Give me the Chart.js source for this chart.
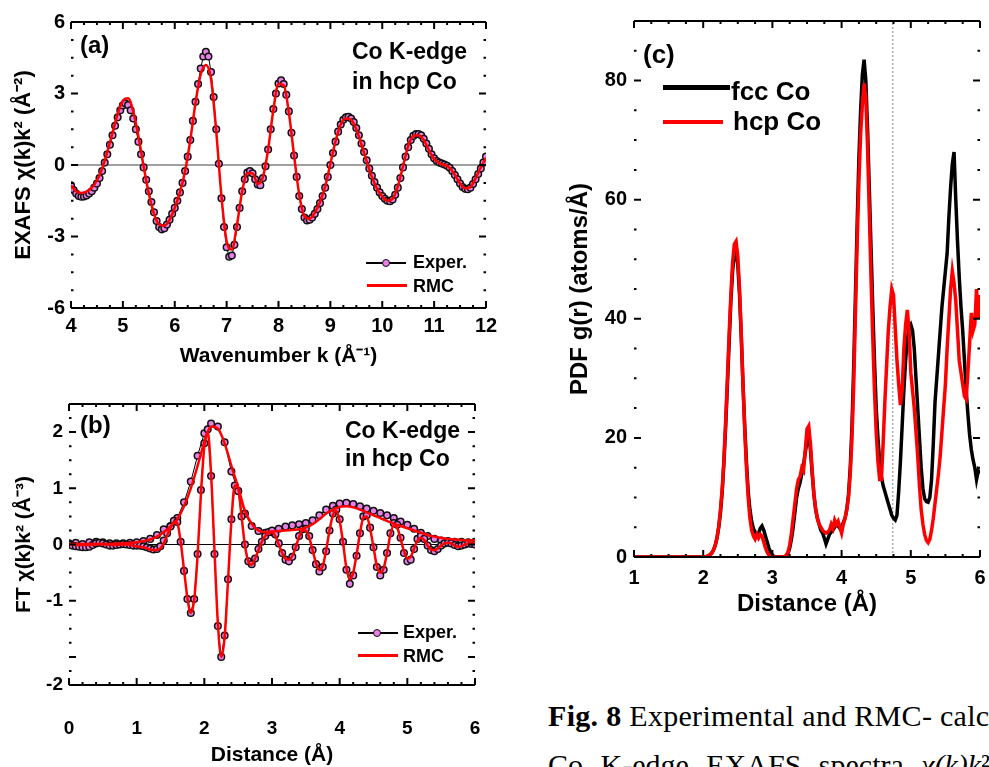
<!DOCTYPE html>
<html>
<head>
<meta charset="utf-8">
<script src="https://cdn.jsdelivr.net/npm/chart.js@4.4.1/dist/chart.umd.min.js"></script>
<style>
  body { margin: 0; background: #fff; }
  #page { position: relative; width: 989px; height: 767px; overflow: hidden; background: #fff;
          font-family: "Liberation Sans", Arial, sans-serif; font-weight: bold; color: #000; }
  canvas { position: absolute; }
  .txt { position: absolute; white-space: nowrap; line-height: 1; }
  .bar { position: absolute; }
  .dot { position: absolute; box-sizing: border-box; width: 8px; height: 8px; border-radius: 50%;
         background: #e680e6; border: 1.5px solid #111; }
  .cap { position: absolute; left: 548px; white-space: nowrap; line-height: 1; font-weight: normal;
         font-family: "Liberation Serif", "Times New Roman", serif; font-size: 30px; }
</style>
</head>
<body>
<div id="page">
  <canvas id="chartA" width="500" height="385" style="left:0;top:0"></canvas>
  <canvas id="chartB" width="500" height="380" style="left:0;top:390px"></canvas>
  <canvas id="chartC" width="459" height="640" style="left:530px;top:0"></canvas>

  <div class="txt" style="left:80px;top:33px;font-size:24px">(a)</div>
  <div class="txt" style="left:352px;top:40px;font-size:23px">Co K-edge</div>
  <div class="txt" style="left:352px;top:70px;font-size:23px">in hcp Co</div>
  <div class="bar" style="left:366px;top:262px;width:40px;height:2px;background:#000"></div>
  <div class="dot" style="left:382px;top:259px"></div>
  <div class="txt" style="left:413px;top:253px;font-size:18px">Exper.</div>
  <div class="bar" style="left:367px;top:283.5px;width:40px;height:3px;background:#ff0000"></div>
  <div class="txt" style="left:413px;top:276.5px;font-size:18px">RMC</div>

  <div class="txt" style="left:80px;top:413px;font-size:24px">(b)</div>
  <div class="txt" style="left:345px;top:419px;font-size:23px">Co K-edge</div>
  <div class="txt" style="left:345px;top:447px;font-size:23px">in hcp Co</div>
  <div class="bar" style="left:358px;top:632px;width:40px;height:2px;background:#000"></div>
  <div class="dot" style="left:373px;top:629px"></div>
  <div class="txt" style="left:403px;top:623px;font-size:18px">Exper.</div>
  <div class="bar" style="left:358px;top:653.5px;width:40px;height:3px;background:#ff0000"></div>
  <div class="txt" style="left:403px;top:646.5px;font-size:18px">RMC</div>

  <div class="txt" style="left:643px;top:41px;font-size:26px">(c)</div>
  <div class="bar" style="left:663px;top:85px;width:67px;height:5px;background:#000"></div>
  <div class="txt" style="left:731px;top:78px;font-size:26px">fcc Co</div>
  <div class="bar" style="left:663px;top:120px;width:60px;height:4px;background:#ff0000"></div>
  <div class="txt" style="left:733px;top:108px;font-size:26px">hcp Co</div>

  <div class="cap" style="top:701px;letter-spacing:0.3px"><b>Fig. 8</b> Experimental and RMC- calculated</div>
  <div class="cap" style="top:750px;word-spacing:10px">Co K-edge EXAFS spectra <i>χ(k)k</i>²</div>
</div>

<script>
function steps(a, b, s) {
    return Array.from({ length: Math.round((b - a) / s) + 1 }, (_, i) => +(a + i * s).toFixed(4));
}
function pts(xs, ys) {
    return xs.map((x, i) => ({ x: x, y: ys[i] }));
}

// --- (a) EXAFS chi(k)k^2 ---
const kExp = steps(4, 12, 0.05);
const chiExp = [
    -0.85,-1.05,-1.2,-1.3,-1.33,-1.32,-1.28,-1.2,-1.1,-0.95,-0.78,-0.55,-0.25,0.1,0.45,0.85,1.25,1.65,2.0,2.3,
    2.5,2.58,2.52,2.3,1.95,1.5,0.98,0.45,-0.1,-0.62,-1.1,-1.55,-1.98,-2.35,-2.6,-2.7,-2.65,-2.5,-2.3,-2.05,
    -1.8,-1.5,-1.15,-0.75,-0.25,0.35,1.05,1.85,2.65,3.4,4.05,4.55,4.75,4.55,3.9,2.85,1.5,0.05,-1.4,-2.6,
    -3.45,-3.85,-3.8,-3.35,-2.6,-1.8,-1.1,-0.6,-0.32,-0.25,-0.35,-0.6,-0.82,-0.85,-0.55,-0.05,0.65,1.5,2.35,3.0,
    3.42,3.55,3.4,2.95,2.25,1.35,0.4,-0.5,-1.3,-1.85,-2.2,-2.33,-2.3,-2.2,-2.05,-1.85,-1.6,-1.3,-0.95,-0.5,
    0.0,0.5,0.98,1.4,1.7,1.9,2.0,2.02,1.95,1.8,1.55,1.25,0.9,0.55,0.2,-0.15,-0.45,-0.72,-0.95,-1.15,
    -1.3,-1.42,-1.5,-1.52,-1.45,-1.25,-0.95,-0.55,-0.1,0.35,0.75,1.05,1.22,1.3,1.3,1.25,1.1,0.9,0.68,0.45,
    0.28,0.17,0.1,0.06,0.02,-0.03,-0.12,-0.25,-0.42,-0.6,-0.78,-0.92,-1.0,-1.02,-0.95,-0.8,-0.6,-0.38,-0.15,0.1,
    0.35
];
const kRmc = steps(4, 12, 0.1);
const chiRmc = [
    -0.85,-1.1,-1.17,-1.12,-0.95,-0.65,-0.15,0.55,1.35,2.15,
    2.7,2.8,2.25,1.2,-0.05,-1.2,-2.05,-2.5,-2.55,-2.3,
    -1.8,-1.15,-0.25,1.05,2.6,3.8,4.2,3.6,1.4,-1.3,
    -3.2,-3.55,-2.5,-1.1,-0.35,-0.35,-0.8,-0.5,0.65,2.3,
    3.4,3.35,2.2,0.4,-1.25,-2.15,-2.25,-2.0,-1.55,-0.9,
    0.05,1.0,1.7,1.95,1.9,1.5,0.85,0.15,-0.5,-1.0,
    -1.32,-1.5,-1.42,-0.9,-0.05,0.8,1.22,1.25,1.05,0.62,
    0.25,0.08,0.0,-0.12,-0.42,-0.78,-0.98,-0.92,-0.55,-0.1,
    0.3
];
const aXTicks = [4, 5, 6, 7, 8, 9, 10, 11, 12];
const aYTicks = [-6, -3, 0, 3, 6];

// --- (b) FT of chi(k)k^2: imaginary part and magnitude ---
const rFt = steps(0, 6, 0.05);
const rFtMag = steps(0, 6, 0.1);
const ftImExp = [
    0.0,-0.02,-0.03,-0.04,-0.05,-0.05,-0.04,-0.01,0.02,0.03,0.02,0.0,-0.02,-0.02,-0.01,0.0,0.01,0.0,-0.01,-0.02,
    -0.02,-0.02,-0.03,-0.05,-0.07,-0.09,-0.08,-0.03,0.07,0.2,0.32,0.42,0.4,0.05,-0.47,-0.97,-1.22,-0.97,-0.17,0.97,
    1.8,2.05,1.22,-0.17,-1.45,-2.0,-1.62,-0.62,0.45,1.05,0.95,0.5,0.0,-0.3,-0.35,-0.25,-0.08,0.05,0.15,0.22,
    0.25,0.18,0.02,-0.15,-0.27,-0.3,-0.22,-0.05,0.15,0.27,0.28,0.15,-0.1,-0.35,-0.48,-0.4,-0.12,0.25,0.55,0.62,
    0.45,0.05,-0.45,-0.7,-0.55,-0.2,0.2,0.5,0.52,0.3,-0.05,-0.4,-0.55,-0.45,-0.15,0.2,0.38,0.35,0.12,-0.15,
    -0.3,-0.27,-0.08,0.1,0.15,0.1,-0.02,-0.1,-0.12,-0.08,-0.02,0.02,0.03,0.02,-0.01,-0.03,-0.02,0.0,0.02,0.01,
    0.0
];
const ftMagExp = [
    0.02,0.03,0.01,0.04,0.05,0.04,0.02,0.02,0.02,0.03,
    0.04,0.06,0.1,0.17,0.27,0.33,0.47,0.75,1.12,1.58,
    1.98,2.15,2.1,1.82,1.3,0.95,0.55,0.33,0.24,0.21,
    0.22,0.28,0.32,0.34,0.36,0.38,0.43,0.52,0.62,0.69,
    0.73,0.74,0.72,0.68,0.64,0.6,0.56,0.52,0.47,0.41,
    0.35,0.28,0.21,0.15,0.1,0.07,0.06,0.05,0.05,0.04,
    0.05
];
const ftImRmc = [
    0.0,0.0,-0.01,-0.01,-0.01,-0.01,-0.01,0.0,0.0,0.01,0.01,0.0,0.0,-0.01,-0.01,0.0,0.0,0.0,-0.01,-0.02,
    -0.03,-0.04,-0.05,-0.07,-0.09,-0.1,-0.1,-0.07,0.02,0.16,0.3,0.4,0.38,0.05,-0.45,-0.95,-1.22,-0.98,-0.2,0.9,
    1.75,2.0,1.25,-0.1,-1.4,-2.0,-1.65,-0.65,0.42,1.05,1.0,0.5,-0.02,-0.3,-0.36,-0.25,-0.1,0.05,0.15,0.2,
    0.22,0.15,0.0,-0.15,-0.25,-0.27,-0.2,-0.05,0.13,0.25,0.25,0.12,-0.1,-0.33,-0.45,-0.38,-0.1,0.25,0.52,0.6,
    0.42,0.03,-0.42,-0.62,-0.5,-0.18,0.2,0.48,0.5,0.28,-0.05,-0.38,-0.5,-0.42,-0.15,0.18,0.34,0.3,0.1,-0.12,
    -0.25,-0.22,-0.07,0.07,0.12,0.08,-0.02,-0.09,-0.1,-0.07,-0.02,0.02,0.03,0.02,-0.02,-0.04,-0.03,0.0,0.02,0.02,
    0.02
];
const ftMagRmc = [
    0.01,0.01,0.01,0.01,0.01,0.01,0.01,0.02,0.02,0.03,
    0.04,0.06,0.09,0.14,0.22,0.32,0.45,0.68,1.0,1.4,
    1.82,2.1,2.06,1.8,1.4,1.02,0.6,0.37,0.25,0.22,
    0.23,0.24,0.25,0.26,0.27,0.3,0.36,0.45,0.55,0.62,
    0.67,0.68,0.66,0.62,0.57,0.52,0.47,0.42,0.37,0.33,
    0.29,0.25,0.21,0.17,0.14,0.12,0.1,0.09,0.08,0.07,
    0.07
];
const bXTicks = [0, 1, 2, 3, 4, 5, 6];
const bYTicks = [2, 1, 0, -1, -2.5];
const bYLabels = ['2', '1', '0', '-1', '-2'];

// --- (c) PDF g(r) ---
const rPdf = steps(1, 6, 0.025);
const gFcc = [
    0,0,0,0,0,0,0,0,0,0,0,0,0,0,0,0,0,0,0,0,
    0,0,0,0,0,0,0,0,0,0,0,0,0,0,0,0,0,0,0,0,
    0,0,0.1,0.2,0.4,0.7,1.2,2.0,3.2,5.0,7.5,11,16,22,29,36,43,48,51,51.5,
    49,44,37,29,22,16,11,8,6,4.8,4.2,3.8,4.0,4.8,5.2,4.5,3.5,2.5,1.5,0.8,
    0.3,0.1,0,0,0,0,0,0,0.2,0.6,1.5,3.0,5.0,7.5,10,11.5,12.5,14,15.5,17.5,
    19.5,20.5,18,14,10.5,8,6.5,5.5,4.5,4.0,3.2,2.2,3.0,3.8,4.2,4.5,5.0,5.5,5.2,4.8,
    5.2,5.8,6.5,8,10.5,15,22,32,44,56,67,75,81,83.5,80,72,62,52,42,33,
    25,20,16,13.5,12,11,10,9,8,7,6.5,6.2,7,11,16,22,28,33,36.5,38.5,
    39,38,35,30,25,20,15,11.5,9.8,9.3,9.2,10,13,19,26,30,34,38,42,45,
    48,51,57,62,66,68,60,53,47,42,38,33,28,24,20.5,18,16.3,15,13,14.5,
    14
];
const gHcp = [
    0,0,0,0,0,0,0,0,0,0,0,0,0,0,0,0,0,0,0,0,
    0,0,0,0,0,0,0,0,0,0,0,0,0,0,0,0,0,0,0,0,
    0,0,0.1,0.2,0.4,0.7,1.2,2.0,3.3,5.2,8,11.5,16.5,23,30,37.5,44,49.5,52.5,53,
    50.5,45,37.5,29,21.5,15,10,6.5,4.5,3.5,3.0,3.8,3.2,3.8,3.5,2.5,1.5,0.8,0.3,0.1,
    0,0,0,0,0,0,0,0,0.3,0.8,2.0,4.0,6.5,9,11.5,13,13.5,15,14.5,18,
    21.5,22,19,14.5,10.5,8,6.5,5.5,5.0,4.5,4.2,4.0,4.2,4.5,5.5,4.8,6.2,5.5,6.0,5.0,
    4.0,5.5,6.5,8,10,14,20,29,41,53,63,71,76,79.5,77,69,58,47,37,28,
    21,16,13,13,19,26,32,38,42,45,44,38.5,33,29,25.5,28,35,39,41.5,38,
    31,28,25,21,17,12,8,5.5,3.8,2.8,2.4,3,4.5,6.5,9,11.5,14,17,21,25,
    29,35,40,45,48,46,43,38,33,31,29,27,26.5,31,36,41,38,39,45,40,
    44
];
const rMark = 4.74;
const cXTicks = [1, 2, 3, 4, 5, 6];
const cYTicks = [0, 20, 40, 60, 80];
const cYMax = 90;

const FONT = "'Liberation Sans', Arial, sans-serif";
const VIOLET = '#e680e6';

// frame lines on top/bottom, inward ticks on all four sides, optional zero line
function marks(scale, major, minor) {
    const out = [];
    const n = Math.round((scale.max - scale.min) / minor);
    for (let i = 0; i <= n; i++) {
        const v = scale.min + i * minor;
        const r = v / major;
        out.push([v, Math.abs(r - Math.round(r)) < 1e-6]);
    }
    return out;
}

const frameTicks = {
    id: 'frameTicks',
    beforeDatasetsDraw(chart, args, o) {
        if (!o.zeroColor) return;
        const { ctx, chartArea: a, scales: { y } } = chart;
        const py = y.getPixelForValue(0);
        ctx.save();
        ctx.strokeStyle = o.zeroColor;
        ctx.lineWidth = o.zeroWidth;
        ctx.beginPath();
        ctx.moveTo(a.left, py);
        ctx.lineTo(a.right, py);
        ctx.stroke();
        ctx.restore();
    },
    afterDatasetsDraw(chart, args, o) {
        const { ctx, chartArea: a, scales: { x, y } } = chart;
        ctx.save();
        ctx.strokeStyle = '#000';
        ctx.lineWidth = 2;
        ctx.beginPath();
        ctx.moveTo(a.left, a.top); ctx.lineTo(a.right, a.top);
        ctx.moveTo(a.left, a.bottom); ctx.lineTo(a.right, a.bottom);
        ctx.stroke();
        ctx.beginPath();
        marks(x, o.xMajor, o.xMinor).forEach(([v, major]) => {
            const p = x.getPixelForValue(v);
            const len = major ? 7 : 3;
            ctx.moveTo(p, a.top); ctx.lineTo(p, a.top + len);
            ctx.moveTo(p, a.bottom); ctx.lineTo(p, a.bottom - len);
        });
        marks(y, o.yMajor, o.yMinor).forEach(([v, major]) => {
            const p = y.getPixelForValue(v);
            const len = major ? 7 : 2.5;
            ctx.moveTo(a.left, p); ctx.lineTo(a.left + len, p);
            ctx.moveTo(a.right, p); ctx.lineTo(a.right - len, p);
        });
        ctx.stroke();
        ctx.restore();
    }
};

function axis(c, horizontal) {
    return {
        type: 'linear',
        min: c.min,
        max: c.max,
        afterBuildTicks: s => { s.ticks = c.ticks.map(v => ({ value: v })); },
        afterFit: s => {
            if (horizontal) {
                s.height = c.size; s.paddingLeft = 0; s.paddingRight = 0;
            } else {
                s.width = c.size; s.paddingTop = 0; s.paddingBottom = 0;
            }
        },
        grid: { display: false, drawTicks: false },
        border: { display: false },
        ticks: {
            autoSkip: false, maxRotation: 0, padding: c.pad, color: '#000',
            font: { family: FONT, weight: 'bold', size: c.font },
            callback: v => {
                const i = c.ticks.indexOf(v);
                if (i < 0) return '';
                return c.labels ? c.labels[i] : String(v);
            }
        },
        title: {
            display: true, text: c.title, color: '#000',
            font: { family: FONT, weight: 'bold', size: c.titleSize },
            padding: c.titlePad
        }
    };
}

function makeChart(id, cfg) {
    return new Chart(document.getElementById(id), {
        type: 'line',
        data: { datasets: cfg.datasets },
        options: {
            responsive: false,
            animation: false,
            devicePixelRatio: 1,
            layout: { padding: cfg.pad },
            plugins: { legend: { display: false }, tooltip: { enabled: false }, frameTicks: cfg.frame },
            scales: { x: axis(cfg.x, true), y: axis(cfg.y, false) }
        },
        plugins: [frameTicks]
    });
}

function rmcLine(data, width) {
    return { data: data, borderColor: '#ff0000', borderWidth: width, pointRadius: 0,
             cubicInterpolationMode: 'monotone', order: 0 };
}
function expPoints(data) {
    return { data: data, borderColor: '#000', borderWidth: 1, pointRadius: 3.3, pointBorderWidth: 1.5,
             pointBorderColor: '#111', pointBackgroundColor: VIOLET, order: 1 };
}

makeChart('chartA', {
    pad: { left: 0, top: 22, right: 14, bottom: 0 },
    frame: { xMajor: 1, xMinor: 0.25, yMajor: 3, yMinor: 0.75, zeroColor: '#808080', zeroWidth: 1.5 },
    x: { min: 4, max: 12, ticks: aXTicks, size: 77, pad: 6, font: 20,
         title: 'Wavenumber k (Å\u207B\u00B9)', titleSize: 21, titlePad: { top: 0, bottom: 16 } },
    y: { min: -6, max: 6, ticks: aYTicks, size: 71, pad: 6, font: 20,
         title: 'EXAFS χ(k)k\u00B2 (Å\u207B\u00B2)', titleSize: 22, titlePad: { top: 11, bottom: 0 } },
    datasets: [rmcLine(pts(kRmc, chiRmc), 2.5), expPoints(pts(kExp, chiExp))]
});

makeChart('chartB', {
    pad: { left: 0, top: 14, right: 25, bottom: 0 },
    frame: { xMajor: 1, xMinor: 0.2, yMajor: 1, yMinor: 0.25, zeroColor: '#000', zeroWidth: 1 },
    x: { min: 0, max: 6, ticks: bXTicks, size: 85, pad: 32, font: 19,
         title: 'Distance (Å)', titleSize: 21, titlePad: { top: 0, bottom: 2 } },
    y: { min: -2.5, max: 2.5, ticks: bYTicks, labels: bYLabels, size: 69, pad: 6, font: 19,
         title: 'FT χ(k)k\u00B2 (Å\u207B\u00B3)', titleSize: 21, titlePad: { top: 12, bottom: 0 } },
    datasets: [
        rmcLine(pts(rFt, ftImRmc), 2.5),
        rmcLine(pts(rFtMag, ftMagRmc), 2.5),
        expPoints(pts(rFt, ftImExp)),
        expPoints(pts(rFtMag, ftMagExp))
    ]
});

makeChart('chartC', {
    pad: { left: 0, top: 21, right: 9, bottom: 0 },
    frame: { xMajor: 1, xMinor: 0.25, yMajor: 20, yMinor: 5 },
    x: { min: 1, max: 6, ticks: cXTicks, size: 83, pad: 9, font: 20,
         title: 'Distance (Å)', titleSize: 24, titlePad: { top: 0, bottom: 21 } },
    y: { min: 0, max: cYMax, ticks: cYTicks, size: 104, pad: 7, font: 20,
         title: 'PDF g(r) (atoms/Å)', titleSize: 24, titlePad: { top: 36, bottom: 0 } },
    datasets: [
        { data: pts(rPdf, gHcp), borderColor: '#ff0000', borderWidth: 3.5, pointRadius: 0, order: 0 },
        { data: pts(rPdf, gFcc), borderColor: '#000', borderWidth: 3.5, pointRadius: 0, order: 1 },
        { data: [{ x: rMark, y: 0 }, { x: rMark, y: cYMax }], borderColor: '#888', borderWidth: 1,
          borderDash: [2, 2], pointRadius: 0, order: 2 }
    ]
});
</script>
</body>
</html>
